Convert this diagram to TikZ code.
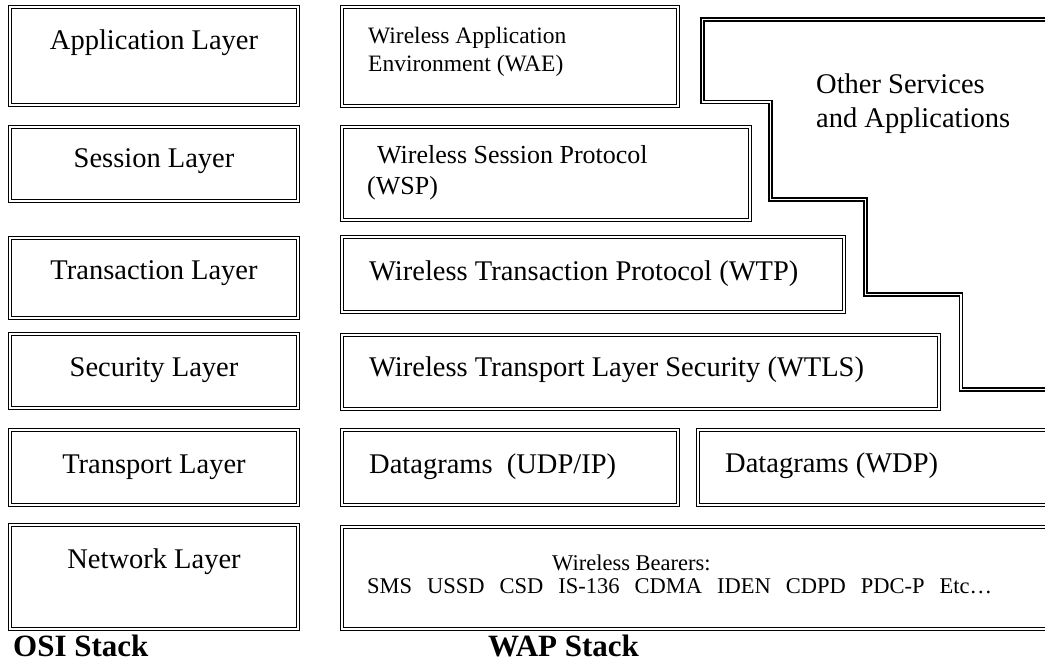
\documentclass[tikz,border=0pt]{standalone}
\usepackage{fontspec}
\setmainfont{Liberation Serif}
\begin{document}
\begin{tikzpicture}[x=1pt, y=-1pt,
    dbline/.style={draw, double, line width=1.7pt, double distance=1.5pt},
    stackbox/.style={dbline, inner sep=0pt, outer sep=0pt, anchor=north west},
    bigtext/.style={font=\fontsize{28.5}{34}\selectfont, inner sep=0pt},
    midtext/.style={font=\fontsize{26}{31}\selectfont, inner sep=0pt, anchor=base west},
    smalltext/.style={font=\fontsize{23.5}{28}\selectfont, inner sep=0pt, anchor=base west},
    stacktitle/.style={font=\fontsize{31}{36}\selectfont\bfseries, inner sep=0pt, anchor=base west}]
    \useasboundingbox (0,0) rectangle (1045,663);
    \clip (0,0) rectangle (1045,663);
    \node[stackbox, minimum width=288pt, minimum height=98pt] (app) at (10,7) {};
    \node[stackbox, minimum width=288pt, minimum height=74pt] (ses) at (10,127) {};
    \node[stackbox, minimum width=288pt, minimum height=80pt] (tra) at (10,238) {};
    \node[stackbox, minimum width=288pt, minimum height=74pt] (sec) at (10,334) {};
    \node[stackbox, minimum width=288pt, minimum height=75pt] (trp) at (10,430) {};
    \node[stackbox, minimum width=288pt, minimum height=104pt] (net) at (10,525) {};
    \node[stackbox, minimum width=336pt, minimum height=99pt] (wae) at (342,7) {};
    \node[stackbox, minimum width=408pt, minimum height=93pt] (wsp) at (342,127) {};
    \node[stackbox, minimum width=502pt, minimum height=75pt] (wtp) at (342,237) {};
    \node[stackbox, minimum width=597pt, minimum height=74pt] (wtls) at (342,335) {};
    \node[stackbox, minimum width=336pt, minimum height=75pt] (udp) at (342,430) {};
    \node[stackbox, minimum width=400pt, minimum height=75pt] (wdp) at (698,430) {};
    \node[stackbox, minimum width=760pt, minimum height=102pt] (bear) at (342,527) {};
    \draw[dbline] (1060,19.5) -- (702.5,19.5) -- (702.5,102) -- (770.5,102) -- (770.5,199.5)
        -- (865.5,199.5) -- (865.5,294.5) -- (961,294.5) -- (961,389.5) -- (1060,389.5);
    \node[bigtext, anchor=base] (appT) at (154,50) {Application Layer};
    \node[bigtext, anchor=base] (sesT) at (154,168) {Session Layer};
    \node[bigtext, anchor=base] (traT) at (154,280) {Transaction Layer};
    \node[bigtext, anchor=base] (secT) at (154,376) {Security Layer};
    \node[bigtext, anchor=base] (trpT) at (154,473) {Transport Layer};
    \node[bigtext, anchor=base] (netT) at (154,568) {Network Layer};
    \node[smalltext] (waeA) at (368,43.5) {Wireless Application};
    \node[smalltext] (waeB) at (368,71.5) {Environment (WAE)};
    \node[midtext] (wspA) at (377,164) {Wireless Session Protocol};
    \node[midtext] (wspB) at (367,195) {(WSP)};
    \node[bigtext, anchor=base west] (wtpT) at (369,281) {Wireless Transaction Protocol (WTP)};
    \node[bigtext, anchor=base west] (wtlsT) at (369,376) {Wireless Transport Layer Security (WTLS)};
    \node[bigtext, anchor=base west] (udpT) at (369,473) {Datagrams~~(UDP/IP)};
    \node[bigtext, anchor=base west] (wdpT) at (725,472) {Datagrams (WDP)};
    \node[bigtext, anchor=base west] (othA) at (816,94) {Other Services};
    \node[bigtext, anchor=base west] (othB) at (816,128) {and Applications};
    \node[smalltext, font=\fontsize{22.5}{27}\selectfont] (bearA) at (552,570) {Wireless Bearers:};
    \node[smalltext, font=\fontsize{22.5}{27}\selectfont] (bearB) at (367,593) {SMS\hspace{15pt}USSD\hspace{15pt}CSD\hspace{15pt}IS-136\hspace{15pt}CDMA\hspace{15pt}IDEN\hspace{15pt}CDPD\hspace{15pt}PDC-P\hspace{15pt}Etc…};
    \node[stacktitle] (osi) at (13,656) {OSI Stack};
    \node[stacktitle] (wap) at (488,656) {WAP Stack};
\end{tikzpicture}
\end{document}
